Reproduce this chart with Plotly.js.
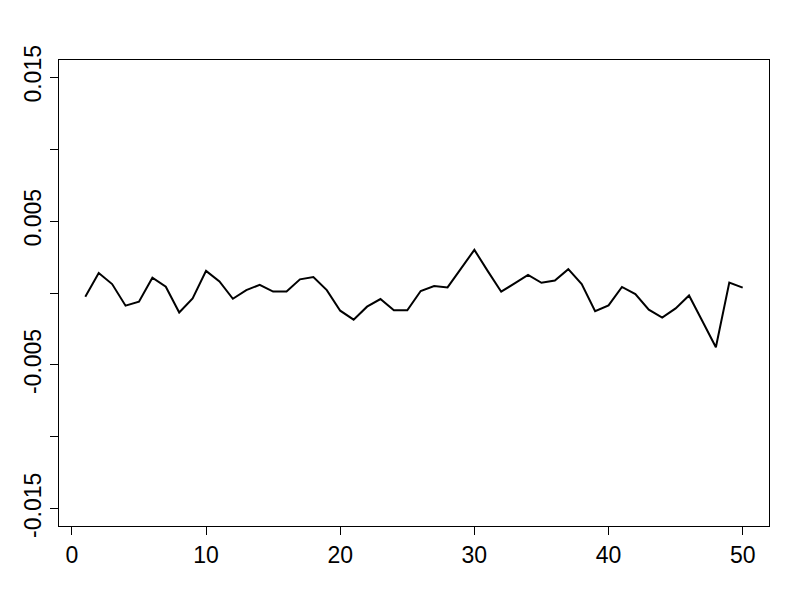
<!DOCTYPE html>
<html>
<head>
<meta charset="utf-8">
<script src="https://cdn.plot.ly/plotly-3.0.1.min.js"></script>
<style>
  html, body { margin: 0; padding: 0; background: #ffffff; }
  #chart { width: 800px; height: 600px; }
</style>
</head>
<body>
<div id="chart"></div>
<script>
// Series values, index 1..50
const xIndex = Array.from({ length: 50 }, (_, i) => i + 1);
const yValues = [
    -0.00026, 0.00139, 0.00062, -0.00088, -0.00060, 0.00106, 0.00044, -0.00136, -0.00037, 0.00154,
    0.00080, -0.00040, 0.00020, 0.00057, 0.00010, 0.00010, 0.00095, 0.00111, 0.00020, -0.00123,
    -0.00185, -0.00095, -0.00042, -0.00120, -0.00120, 0.00014, 0.00048, 0.00039, 0.00170, 0.00300,
    0.00152, 0.00009, 0.00067, 0.00126, 0.00071, 0.00087, 0.00166, 0.00062, -0.00127, -0.00086,
    0.00042, -0.00007, -0.00116, -0.00171, -0.00107, -0.00017, -0.00197, -0.00377, 0.00073, 0.00037
];

// Axis ticks
const xTicks = [0, 10, 20, 30, 40, 50];
const yTicks = [-0.015, -0.01, -0.005, 0, 0.005, 0.01, 0.015];
const yTickText = ['-0.015', '', '-0.005', '', '0.005', '', '0.015'];

const trace = {
    x: xIndex,
    y: yValues,
    type: 'scatter',
    mode: 'lines',
    line: { color: '#000000', width: 2 },
    hoverinfo: 'skip'
};

const layout = {
    width: 800,
    height: 600,
    margin: { l: 59, r: 31, t: 60, b: 74 },
    paper_bgcolor: '#ffffff',
    plot_bgcolor: '#ffffff',
    showlegend: false,
    font: { family: 'Liberation Sans, Arial, sans-serif', size: 23, color: '#000000' },
    xaxis: {
        range: [-0.96, 51.96],
        tickvals: xTicks,
        ticks: 'outside',
        ticklen: 8,
        tickwidth: 1,
        tickcolor: '#000000',
        showgrid: false,
        zeroline: false,
        showline: true,
        mirror: true,
        linecolor: '#000000',
        linewidth: 1
    },
    yaxis: {
        range: [-0.0162, 0.0162],
        tickvals: yTicks,
        ticktext: yTickText,
        tickangle: -90,
        ticks: 'outside',
        ticklen: 8,
        tickwidth: 1,
        tickcolor: '#000000',
        showgrid: false,
        zeroline: false,
        showline: true,
        mirror: true,
        linecolor: '#000000',
        linewidth: 1
    }
};

Plotly.newPlot('chart', [trace], layout, { staticPlot: true, displayModeBar: false });
</script>
</body>
</html>
